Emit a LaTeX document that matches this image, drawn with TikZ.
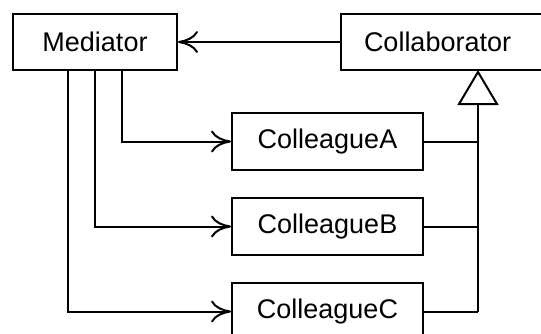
\documentclass[tikz,border=0pt]{standalone}
\usepackage{fontspec}
\setmainfont{Liberation Sans}
\usetikzlibrary{arrows.meta}
\begin{document}
\begin{tikzpicture}[x=1pt,y=-1pt, line width=2pt,
    font=\fontsize{27}{32}\selectfont,
    >={To[length=20pt,width=22pt]},
    box/.style={draw, minimum height=56pt, inner sep=0pt}]
  \useasboundingbox (0,0) rectangle (541,333);
  \clip (0,0) rectangle (541,333);

  % Top row
  \node[box, minimum width=164pt] (Mediator) at (95,42) {Mediator};
  \node[box, anchor=west, text width=180pt, align=left, inner xsep=23pt]
    (Collaborator) at (340,42) {Collaborator};
  \draw[->] (Collaborator) -- (Mediator);

  % Colleagues x3
  \coordinate (tip) at (478,70);
  \foreach \n/\y/\x in {A/141.5/122, B/226.5/95, C/311.5/68}{
      \node[box, minimum width=191pt, minimum height=57pt]
        (Colleague\n) at (327.5,\y) {Colleague\n};
      % link from mediator
      \coordinate (m\n) at (\x,0);
      \draw[->] (Mediator.south -| m\n) |- (Colleague\n.west);
      % link to the inheritance line
      \draw (Colleague\n.east) -- (Colleague\n.east -| tip);
    }

  % Inheritance
  \draw[-{Triangle[open,length=35pt,width=41pt]}]
    (ColleagueC.east -| tip) -- (tip);
\end{tikzpicture}
\end{document}
